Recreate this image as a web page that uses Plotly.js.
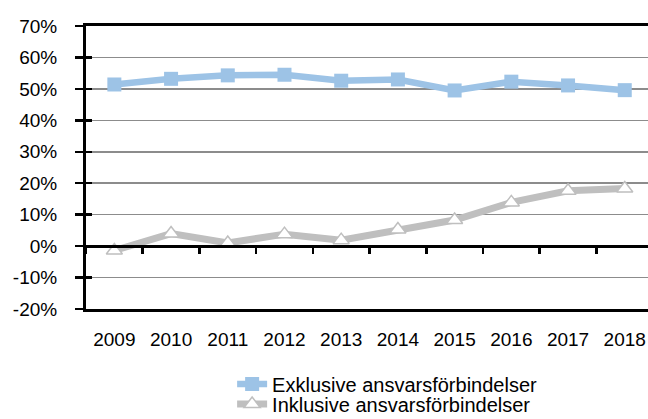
<!DOCTYPE html>
<html>
<head>
<meta charset="utf-8">
<script src="https://cdn.plot.ly/plotly-3.0.1.min.js"></script>
<style>html,body{margin:0;padding:0;background:#fff;}#chart{width:648px;height:419px;}</style>
</head>
<body>
<div id="chart"></div>
<script>
const years = ['2009','2010','2011','2012','2013','2014','2015','2016','2017','2018'];
const exklusive = [51.4, 53.2, 54.3, 54.5, 52.6, 53.0, 49.5, 52.3, 51.1, 49.6];
const inklusive = [-1.4, 4.0, 1.0, 3.8, 1.9, 5.3, 8.3, 13.9, 17.6, 18.3];
const yTicks = [-20, -10, 0, 10, 20, 30, 40, 50, 60, 70];
const seriesNames = ['Exklusive ansvarsförbindelser', 'Inklusive ansvarsförbindelser'];

const FONT = 'Liberation Sans, Arial, sans-serif';

const traces = [
  // invisible helper traces for the zero-line axis and inner y ticks
  {x: years, y: inklusive, xaxis: 'x2', yaxis: 'y', type: 'scatter', mode: 'none', showlegend: false, hoverinfo: 'skip'},
  {x: years, y: inklusive, xaxis: 'x', yaxis: 'y2', type: 'scatter', mode: 'none', showlegend: false, hoverinfo: 'skip'},
  {
    x: years, y: exklusive, name: seriesNames[0], type: 'scatter', mode: 'lines+markers',
    line: {color: '#9DC3E6', width: 6.5},
    marker: {symbol: 'square', size: 14, color: '#9DC3E6'},
    legend: 'legend', cliponaxis: false
  },
  {
    x: years, y: inklusive, name: seriesNames[1], type: 'scatter', mode: 'lines+markers',
    line: {color: '#BFBFBF', width: 7},
    marker: {symbol: 'triangle-up', size: 14, color: '#FFFFFF', line: {color: '#BFBFBF', width: 1.5}},
    legend: 'legend2', cliponaxis: false
  }
];

const layout = {
  width: 648, height: 419,
  margin: {l: 86, r: 0, t: 26, b: 110, autoexpand: false},
  paper_bgcolor: '#fff', plot_bgcolor: '#fff',
  font: {family: FONT, size: 19, color: '#000'},
  xaxis: {
    type: 'category', range: [-0.5, 9.41],
    showline: true, linecolor: '#000', linewidth: 3, mirror: true,
    showgrid: false, zeroline: false, ticks: '',
    ticklabelstandoff: 11,
    tickfont: {family: FONT, size: 19, color: '#000'}
  },
  xaxis2: {
    type: 'category', range: [-0.5, 9.41], overlaying: 'x', anchor: 'free', position: 20/90,
    showline: true, linecolor: '#000', linewidth: 3,
    ticks: 'outside', tickson: 'boundaries', ticklen: 6, tickwidth: 2.5, tickcolor: '#000',
    showticklabels: false, showgrid: false, zeroline: false
  },
  yaxis: {
    range: [-20, 70], tickvals: yTicks, ticktext: yTicks.map(v => v + '%'),
    showline: true, linecolor: '#000', linewidth: 3,
    ticks: 'outside', ticklen: 8, tickwidth: 2.5, tickcolor: '#000',
    ticklabelstandoff: 14,
    showgrid: true, gridcolor: '#8C8C8C', gridwidth: 1.5,
    zeroline: false,
    tickfont: {family: FONT, size: 19, color: '#000'}
  },
  yaxis2: {
    range: [-20, 70], tickvals: yTicks, overlaying: 'y', anchor: 'x', side: 'left',
    showline: false, ticks: 'inside', ticklen: 6, tickwidth: 2.5, tickcolor: '#000',
    showticklabels: false, showgrid: false, zeroline: false
  },
  showlegend: true,
  legend: {
    x: 0.26, y: -0.265, xanchor: 'left', yanchor: 'middle',
    font: {family: FONT, size: 20, color: '#000'},
    bgcolor: 'rgba(0,0,0,0)', borderwidth: 0
  },
  legend2: {
    x: 0.26, y: -0.3357, xanchor: 'left', yanchor: 'middle',
    font: {family: FONT, size: 20, color: '#000'},
    bgcolor: 'rgba(0,0,0,0)', borderwidth: 0
  }
};

Plotly.newPlot('chart', traces, layout, {displayModeBar: false, staticPlot: true});
</script>
</body>
</html>
